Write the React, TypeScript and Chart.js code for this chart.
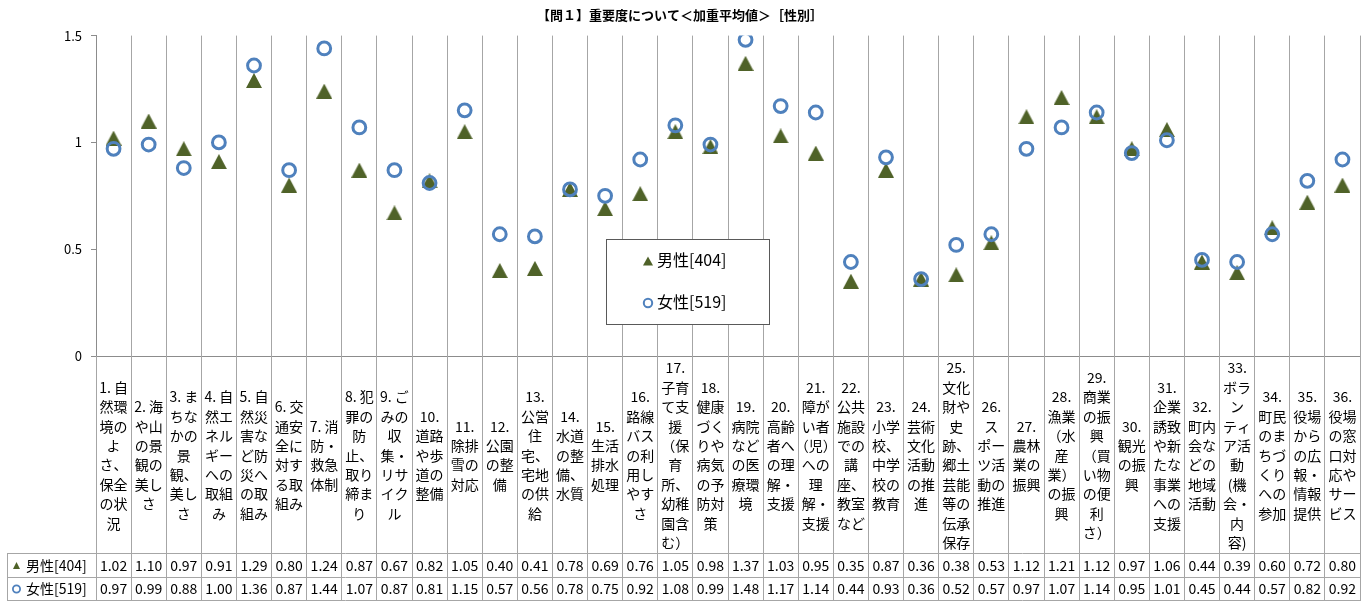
import React, { useEffect, useRef } from "react";
import { Chart, registerables } from "chart.js";

Chart.register(...registerables);

// ---- data ----
const TITLE = "【問１】重要度について＜加重平均値＞［性別］";

const categories: string[][] = [
  ["1. 自", "然環", "境の", "よ", "さ、", "保全", "の状", "況"],
  ["2. 海", "や山", "の景", "観の", "美し", "さ"],
  ["3. ま", "ちな", "かの", "景", "観、", "美し", "さ"],
  ["4. 自", "然エ", "ネル", "ギー", "への", "取組", "み"],
  ["5. 自", "然災", "害な", "ど防", "災へ", "の取", "組み"],
  ["6. 交", "通安", "全に", "対す", "る取", "組み"],
  ["7. 消", "防・", "救急", "体制"],
  ["8. 犯", "罪の", "防", "止、", "取り", "締ま", "り"],
  ["9. ご", "みの", "収", "集・", "リサ", "イク", "ル"],
  ["10.", "道路", "や歩", "道の", "整備"],
  ["11.", "除排", "雪の", "対応"],
  ["12.", "公園", "の整", "備"],
  ["13.", "公営", "住", "宅、", "宅地", "の供", "給"],
  ["14.", "水道", "の整", "備、", "水質"],
  ["15.", "生活", "排水", "処理"],
  ["16.", "路線", "バス", "の利", "用し", "やす", "さ"],
  ["17.", "子育", "て支", "援", "（保", "育", "所、", "幼稚", "園含", "む）"],
  ["18.", "健康", "づく", "りや", "病気", "の予", "防対", "策"],
  ["19.", "病院", "など", "の医", "療環", "境"],
  ["20.", "高齢", "者へ", "の理", "解・", "支援"],
  ["21.", "障が", "い者", "（児）", "への", "理", "解・", "支援"],
  ["22.", "公共", "施設", "での", "講", "座、", "教室", "など"],
  ["23.", "小学", "校、", "中学", "校の", "教育"],
  ["24.", "芸術", "文化", "活動", "の推", "進"],
  ["25.", "文化", "財や", "史", "跡、", "郷土", "芸能", "等の", "伝承", "保存"],
  ["26.", "ス", "ポー", "ツ活", "動の", "推進"],
  ["27.", "農林", "業の", "振興"],
  ["28.", "漁業", "（水", "産", "業）", "の振", "興"],
  ["29.", "商業", "の振", "興", "（買", "い物", "の便", "利", "さ）"],
  ["30.", "観光", "の振", "興"],
  ["31.", "企業", "誘致", "や新", "たな", "事業", "への", "支援"],
  ["32.", "町内", "会な", "どの", "地域", "活動"],
  ["33.", "ボラ", "ン", "ティ", "ア活", "動", "(機", "会・", "内", "容)"],
  ["34.", "町民", "のま", "ちづ", "くり", "への", "参加"],
  ["35.", "役場", "から", "の広", "報・", "情報", "提供"],
  ["36.", "役場", "の窓", "口対", "応や", "サー", "ビス"],
];

const maleLabel = "男性[404]";
const femaleLabel = "女性[519]";

const maleValues = [
  1.02, 1.1, 0.97, 0.91, 1.29, 0.8, 1.24, 0.87, 0.67, 0.82, 1.05, 0.4,
  0.41, 0.78, 0.69, 0.76, 1.05, 0.98, 1.37, 1.03, 0.95, 0.35, 0.87, 0.36,
  0.38, 0.53, 1.12, 1.21, 1.12, 0.97, 1.06, 0.44, 0.39, 0.6, 0.72, 0.8,
];

const femaleValues = [
  0.97, 0.99, 0.88, 1.0, 1.36, 0.87, 1.44, 1.07, 0.87, 0.81, 1.15, 0.57,
  0.56, 0.78, 0.75, 0.92, 1.08, 0.99, 1.48, 1.17, 1.14, 0.44, 0.93, 0.36,
  0.52, 0.57, 0.97, 1.07, 1.14, 0.95, 1.01, 0.45, 0.44, 0.57, 0.82, 0.92,
];

const yMin = 0;
const yMax = 1.5;
const yStep = 0.5;

// ---- styling ----
const GREEN = "#4F6228";
const BLUE = "#4F81BD";
const GRID = "#A6A6A6";
const AXIS = "#8C8C8C";
const JP = '"Noto Sans CJK JP", "Noto Sans", sans-serif';

const W = 1370;
const H = 602;

function align(px: number) {
  return Math.round(px - 0.5) + 0.5;
}

function drawTriangle(ctx: CanvasRenderingContext2D, cx: number, cy: number, w: number, h: number) {
  ctx.beginPath();
  ctx.moveTo(cx, cy - h / 2);
  ctx.lineTo(cx + w / 2, cy + h / 2);
  ctx.lineTo(cx - w / 2, cy + h / 2);
  ctx.closePath();
  ctx.fillStyle = GREEN;
  ctx.fill();
}

function drawRing(ctx: CanvasRenderingContext2D, cx: number, cy: number, r: number, lw: number) {
  ctx.beginPath();
  ctx.arc(cx, cy, r, 0, Math.PI * 2);
  ctx.lineWidth = lw;
  ctx.strokeStyle = BLUE;
  ctx.stroke();
}

function triangleMarker(w: number, h: number) {
  const c = document.createElement("canvas");
  c.width = w;
  c.height = h;
  const ctx = c.getContext("2d")!;
  drawTriangle(ctx, w / 2, h / 2, w, h);
  return c;
}

// data table under the category labels, plus the boxed legend
const tableAndLegend = {
  id: "tableAndLegend",
  afterDraw(chart: any) {
    const { ctx, chartArea } = chart;
    const xs = chart.scales.x;
    const n = categories.length;
    const tableTop = xs.bottom;
    const rowH = [24, 23];
    const tableBottom = tableTop + rowH[0] + rowH[1];
    const tableLeft = 7;

    ctx.save();
    ctx.strokeStyle = GRID;
    ctx.lineWidth = 1;
    ctx.beginPath();
    for (let i = 0; i <= n; i++) {
      const px = align(xs.getPixelForValue(i - 0.5));
      ctx.moveTo(px, chartArea.bottom);
      ctx.lineTo(px, tableBottom);
    }
    const rows = [tableTop, tableTop + rowH[0], tableBottom];
    for (const y of rows) {
      ctx.moveTo(tableLeft, align(y));
      ctx.lineTo(align(chartArea.right) + 0.5, align(y));
    }
    ctx.moveTo(align(tableLeft), tableTop);
    ctx.lineTo(align(tableLeft), tableBottom);
    ctx.stroke();

    const series = [
      { label: maleLabel, values: maleValues, tri: true },
      { label: femaleLabel, values: femaleValues, tri: false },
    ];
    ctx.font = `14px ${JP}`;
    ctx.fillStyle = "#000";
    ctx.textBaseline = "middle";
    series.forEach((s, r) => {
      const cy = rows[r] + rowH[r] / 2 + 0.5;
      if (s.tri) drawTriangle(ctx, 16.5, cy, 7, 7);
      else drawRing(ctx, 16.5, cy, 3.6, 1.8);
      ctx.fillStyle = "#000";
      ctx.textAlign = "left";
      ctx.fillText(s.label, 26, cy);
      ctx.textAlign = "center";
      s.values.forEach((v, i) => {
        ctx.fillText(v.toFixed(2), xs.getPixelForValue(i), cy);
      });
    });

    // legend box
    const bx = 606.5;
    const by = 239.5;
    const bw = 163;
    const bh = 85;
    ctx.fillStyle = "#fff";
    ctx.fillRect(bx, by, bw, bh);
    ctx.strokeStyle = "#595959";
    ctx.lineWidth = 1;
    ctx.strokeRect(bx, by, bw, bh);
    ctx.font = `16px ${JP}`;
    ctx.textAlign = "left";
    drawTriangle(ctx, 648, 261, 10, 9);
    ctx.fillStyle = "#000";
    ctx.fillText(maleLabel, 657, 260);
    drawRing(ctx, 648, 303, 4.2, 2);
    ctx.fillStyle = "#000";
    ctx.fillText(femaleLabel, 657, 302);
    ctx.restore();
  },
};

export default function App() {
  const ref = useRef<HTMLCanvasElement | null>(null);

  useEffect(() => {
    if (!ref.current) return;
    const tri = triangleMarker(16, 15);
    const chart = new Chart(ref.current, {
      type: "line",
      data: {
        labels: categories,
        datasets: [
          {
            label: maleLabel,
            data: maleValues,
            showLine: false,
            pointStyle: tri,
            pointRadius: 8,
            pointBackgroundColor: GREEN,
            pointBorderColor: GREEN,
            order: 1,
          },
          {
            label: femaleLabel,
            data: femaleValues,
            showLine: false,
            pointStyle: "circle",
            pointRadius: 6.4,
            pointBorderWidth: 3,
            pointBackgroundColor: "rgba(0,0,0,0)",
            pointBorderColor: BLUE,
            order: 0,
          },
        ],
      },
      options: {
        responsive: false,
        animation: false,
        events: [],
        layout: { padding: { left: 0, right: 10, top: 0, bottom: 49 } },
        plugins: {
          legend: { display: false },
          tooltip: { enabled: false },
          title: {
            display: true,
            text: TITLE,
            color: "#000",
            font: { family: JP, size: 13, weight: "bold" },
            padding: { top: 7, bottom: 13 },
          },
        },
        scales: {
          x: {
            type: "category",
            offset: true,
            grid: {
              offset: true,
              color: GRID,
              lineWidth: 1,
              drawTicks: false,
            },
            border: { color: AXIS, width: 1 },
            ticks: {
              autoSkip: false,
              maxRotation: 0,
              minRotation: 0,
              padding: 12,
              crossAlign: "center",
              color: "#000",
              font: { family: JP, size: 14, lineHeight: 1.386 },
            },
            afterFit(scale: any) {
              scale.height = 197;
            },
          },
          y: {
            min: yMin,
            max: yMax,
            grid: {
              drawOnChartArea: false,
              drawTicks: true,
              tickLength: 5,
              color: AXIS,
            },
            border: { color: AXIS, width: 1 },
            ticks: {
              stepSize: yStep,
              padding: 9,
              color: "#000",
              font: { family: JP, size: 13 },
              callback: (v: any) => String(Number(v)),
            },
            afterFit(scale: any) {
              scale.width = 96;
            },
          },
        },
      },
      plugins: [tableAndLegend],
    });
    return () => chart.destroy();
  }, []);

  return (
    <div
      style={{
        position: "fixed",
        left: 0,
        top: 0,
        width: W,
        height: H,
        background: "#fff",
      }}
    >
      <canvas ref={ref} width={W} height={H} style={{ display: "block" }} />
    </div>
  );
}
